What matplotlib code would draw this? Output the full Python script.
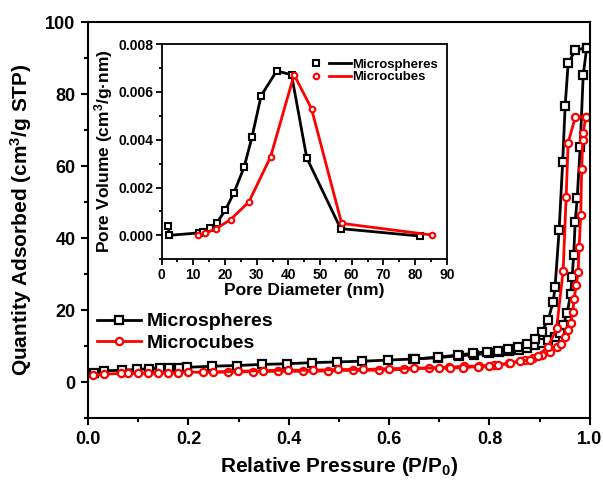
import matplotlib
matplotlib.use("Agg")
import matplotlib.pyplot as plt
from matplotlib.lines import Line2D
from matplotlib.legend_handler import HandlerTuple
from matplotlib.ticker import MultipleLocator

plt.rcParams["font.family"] = ["Liberation Sans", "DejaVu Sans"]
plt.rcParams["font.weight"] = "bold"
plt.rcParams["mathtext.fontset"] = "custom"
plt.rcParams["mathtext.rm"] = "Liberation Sans:bold"
plt.rcParams["mathtext.bf"] = "Liberation Sans:bold"
plt.rcParams["mathtext.default"] = "bf"

# N2 isotherms, microspheres (black)
sph_ads_p = [0.011, 0.031, 0.067, 0.097, 0.121, 0.144, 0.161, 0.181, 0.197,
             0.247, 0.297, 0.347, 0.397, 0.447, 0.497, 0.547, 0.597, 0.647,
             0.697, 0.740, 0.770, 0.800, 0.820, 0.840, 0.860, 0.875, 0.890,
             0.905, 0.917, 0.930, 0.940, 0.947, 0.955, 0.962, 0.965, 0.968,
             0.971, 0.975, 0.981, 0.987, 0.994]
sph_ads_q = [2.6, 3.1, 3.3, 3.5, 3.7, 3.8, 3.85, 3.9, 4.1,
             4.4, 4.6, 4.9, 5.1, 5.4, 5.6, 5.8, 6.1, 6.4,
             6.8, 7.3, 7.6, 8.0, 8.3, 8.6, 9.0, 9.5, 10.2,
             10.9, 11.7, 12.6, 13.5, 15.8, 19.1, 24.6, 29.3, 35.3,
             44.5, 51.0, 65.4, 85.3, 92.9]
sph_des_p = [0.994, 0.971, 0.957, 0.951, 0.946, 0.939, 0.931, 0.927, 0.917,
             0.904, 0.891, 0.874, 0.857, 0.837, 0.817, 0.795, 0.767, 0.737,
             0.697, 0.651]
sph_des_q = [92.9, 92.2, 88.5, 76.7, 61.0, 42.2, 26.5, 22.3, 17.2,
             14.0, 11.9, 10.7, 9.8, 9.1, 8.7, 8.4, 8.0, 7.5,
             6.9, 6.4]

# N2 isotherms, microcubes (red)
cub_ads_p = [0.009, 0.032, 0.065, 0.079, 0.099, 0.119, 0.139, 0.159, 0.179,
             0.199, 0.229, 0.279, 0.329, 0.379, 0.429, 0.479, 0.529, 0.579,
             0.629, 0.679, 0.719, 0.749, 0.780, 0.810, 0.840, 0.871, 0.887,
             0.904, 0.921, 0.934, 0.943, 0.951, 0.957, 0.962, 0.966, 0.969,
             0.973, 0.977, 0.979, 0.982, 0.984, 0.986, 0.987, 0.992]
cub_ads_q = [1.9, 2.2, 2.4, 2.4, 2.5, 2.5, 2.6, 2.6, 2.6,
             2.8, 2.7, 2.8, 2.9, 3.0, 3.0, 3.1, 3.3, 3.3,
             3.5, 3.9, 4.1, 4.4, 4.4, 4.8, 5.2, 6.1, 6.6,
             7.5, 8.4, 9.8, 10.7, 12.6, 14.4, 16.3, 19.5, 23.2,
             27.0, 30.6, 37.6, 46.4, 59.3, 67.2, 69.2, 73.7]
cub_des_p = [0.992, 0.971, 0.957, 0.953, 0.947, 0.934, 0.917, 0.897, 0.881,
             0.861, 0.841, 0.817, 0.799, 0.777, 0.747, 0.721, 0.699, 0.649,
             0.599, 0.549, 0.499, 0.449, 0.399, 0.349, 0.299, 0.249]
cub_des_q = [73.7, 73.5, 66.5, 51.5, 30.9, 14.9, 9.8, 7.3, 6.1,
             5.9, 5.2, 4.7, 4.5, 4.3, 4.0, 3.9, 3.9, 3.9,
             3.7, 3.5, 3.5, 3.3, 3.3, 3.2, 3.0, 2.8]

# pore size distribution (inset)
sph_d = [2.1, 2.4, 11.8, 13.2, 15.4, 17.4, 20.1, 22.8, 26.0, 28.5, 31.4,
         36.3, 41.0, 45.8, 56.5, 81.4]
sph_v = [0.00039, 0.0, 0.0001, 0.00014, 0.0003, 0.00052, 0.00105, 0.00177,
         0.00284, 0.0041, 0.00584, 0.00688, 0.00672, 0.00324, 0.00028, -0.00003]
cub_d = [11.6, 13.7, 17.2, 21.8, 27.6, 34.4, 41.8, 47.3, 56.8, 85.4]
cub_v = [0.00001, 0.00008, 0.00028, 0.00066, 0.00141, 0.00329, 0.00672,
         0.0053, 0.0005, 0.00001]

fig = plt.figure(figsize=(6.03, 4.8), dpi=100)
ax = fig.add_axes((0.146, 0.129, 0.832, 0.825))

sty = dict(lw=2, ms=5.2, mew=1.6, mfc="white")
ax.plot(sph_ads_p, sph_ads_q, "-s", color="black", **sty)
ax.plot(sph_des_p, sph_des_q, "-s", color="black", **sty)
ax.plot(cub_ads_p, cub_ads_q, "-o", color="red", **sty)
ax.plot(cub_des_p, cub_des_q, "-o", color="red", **sty)

ax.set_xlim(0, 1.0)
ax.set_ylim(-10, 100)
ax.xaxis.set_major_locator(MultipleLocator(0.2))
ax.xaxis.set_minor_locator(MultipleLocator(0.1))
ax.yaxis.set_major_locator(MultipleLocator(20))
ax.yaxis.set_minor_locator(MultipleLocator(10))
ax.tick_params(which="major", length=5, width=1.5, labelsize=13, pad=4)
ax.tick_params(which="minor", length=3, width=1.5)
for s in ax.spines.values():
    s.set_linewidth(1.5)
ax.set_xlabel("Relative Pressure (P/P$_0$)", fontsize=15, fontweight="bold", labelpad=5)
ax.set_ylabel("Quantity Adsorbed (cm$^3$/g STP)", fontsize=15, fontweight="bold", labelpad=8)

h1 = Line2D([], [], marker="s", color="black", **sty)
h2 = Line2D([], [], marker="o", color="red", **sty)
ax.legend([h1, h2], ["Microspheres", "Microcubes"], loc="upper left",
          bbox_to_anchor=(-0.018, 0.31), frameon=False,
          handlelength=2.3, handletextpad=0.3, labelspacing=0.2,
          prop={"weight": "bold", "size": 14})

# inset
ins = fig.add_axes((0.268, 0.460, 0.473, 0.448))
isty = dict(lw=2, ms=4, mew=1.5, mfc="white")
ins.plot(sph_d, sph_v, "-s", color="black", **isty)
ins.plot(cub_d, cub_v, "-o", color="red", **isty)
ins.set_xlim(0, 90)
ins.set_ylim(-0.001, 0.008)
ins.xaxis.set_major_locator(MultipleLocator(10))
ins.xaxis.set_minor_locator(MultipleLocator(5))
ins.yaxis.set_major_locator(MultipleLocator(0.002))
ins.yaxis.set_minor_locator(MultipleLocator(0.001))
ins.yaxis.set_major_formatter(plt.FormatStrFormatter("%.3f"))
ins.tick_params(which="major", length=4, width=1.3, labelsize=10, pad=2)
ins.tick_params(which="minor", length=2, width=1.3)
for s in ins.spines.values():
    s.set_linewidth(1.3)
ins.set_xlabel("Pore Diameter (nm)", fontsize=12.5, fontweight="bold", labelpad=1)
ins.set_ylabel("Pore Volume (cm$^3$/g·nm)", fontsize=12.5, fontweight="bold", labelpad=2)

m1 = Line2D([], [], marker="s", color="black", ls="none", ms=4, mew=1.5, mfc="white")
l1 = Line2D([], [], color="black", lw=2)
m2 = Line2D([], [], marker="o", color="red", ls="none", ms=4, mew=1.5, mfc="white")
l2 = Line2D([], [], color="red", lw=2)
ins.legend([(m1, l1), (m2, l2)], ["Microspheres", "Microcubes"], loc="upper right",
           bbox_to_anchor=(1.0, 0.975), frameon=False,
           handler_map={tuple: HandlerTuple(ndivide=None, pad=0.2)},
           handlelength=3.4, handletextpad=0.1, labelspacing=0.0,
           borderaxespad=0.3, prop={"weight": "bold", "size": 9.5})

fig.savefig("out.png", dpi=100)
